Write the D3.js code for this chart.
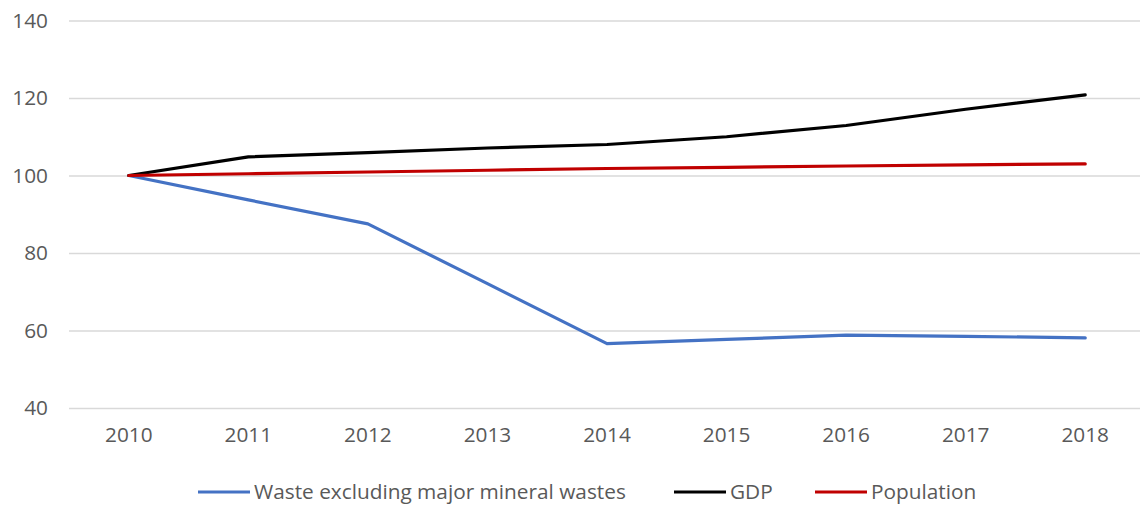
<!DOCTYPE html>
<html><head><meta charset="utf-8">
<script src="https://cdn.jsdelivr.net/npm/d3@7"></script>
<style>body{margin:0;background:#fff}svg{display:block}text{font-family:"Open Sans",sans-serif;fill:#595959}</style>
</head><body><svg id="c" width="1140" height="512"></svg>
<script>
const years = ["2010","2011","2012","2013","2014","2015","2016","2017","2018"];
const waste = [100, 93.7, 87.5, 72.1, 56.6, 57.7, 58.8, 58.5, 58.1];
const gdp = [100, 104.8, 105.9, 107.1, 108.0, 110.0, 112.9, 117.1, 120.8];
const population = [100, 100.45, 100.9, 101.35, 101.8, 102.1, 102.45, 102.75, 103.0];
const yTicks = [40, 60, 80, 100, 120, 140];
const seriesNames = ["Waste excluding major mineral wastes", "GDP", "Population"];
const colors = ["#4472C4", "#000000", "#C00000"];
const fs = 20.8;

const svg = d3.select("#c");
const x = d3.scaleBand().domain(years).range([69, 1145]);
const y = d3.scaleLinear().domain([40, 140]).range([408, 20.5]);

// grid
const yAxis = d3.axisLeft(y).tickValues(yTicks).tickSize(-(1145-69)).tickPadding(22);
const gy = svg.append("g").attr("transform", "translate(69,0)").call(yAxis);
gy.select(".domain").remove();
gy.selectAll(".tick line").attr("stroke", "#d9d9d9").attr("stroke-width", 1.3);
gy.selectAll(".tick text").attr("font-size", fs).attr("fill", "#595959").attr("x", -21);

const xAxis = d3.axisBottom(x).tickSize(0).tickPadding(19);
const gx = svg.append("g").attr("transform", "translate(0,408)").call(xAxis);
gx.select(".domain").remove();
gx.selectAll(".tick text").attr("font-size", fs).attr("fill", "#595959");

const cx = d => x(d) + x.bandwidth()/2;
const line = d3.line().x((d,i) => cx(years[i])).y(d => y(d));
[waste, gdp, population].forEach((s, k) => {
  svg.append("path").datum(s).attr("d", line).attr("fill", "none")
    .attr("stroke", colors[k]).attr("stroke-width", 3.2).attr("stroke-linejoin", "round").attr("stroke-linecap", "round");
});

// legend
const legX = [198, 674, 815];
const lg = svg.append("g");
seriesNames.forEach((n, k) => {
  lg.append("line").attr("x1", legX[k]).attr("x2", legX[k] + 52).attr("y1", 492).attr("y2", 492)
    .attr("stroke", colors[k]).attr("stroke-width", 3.2);
  lg.append("text").attr("x", legX[k] + 56).attr("y", 492).attr("dy", "0.35em")
    .attr("font-size", fs).text(n);
});
</script></body></html>
